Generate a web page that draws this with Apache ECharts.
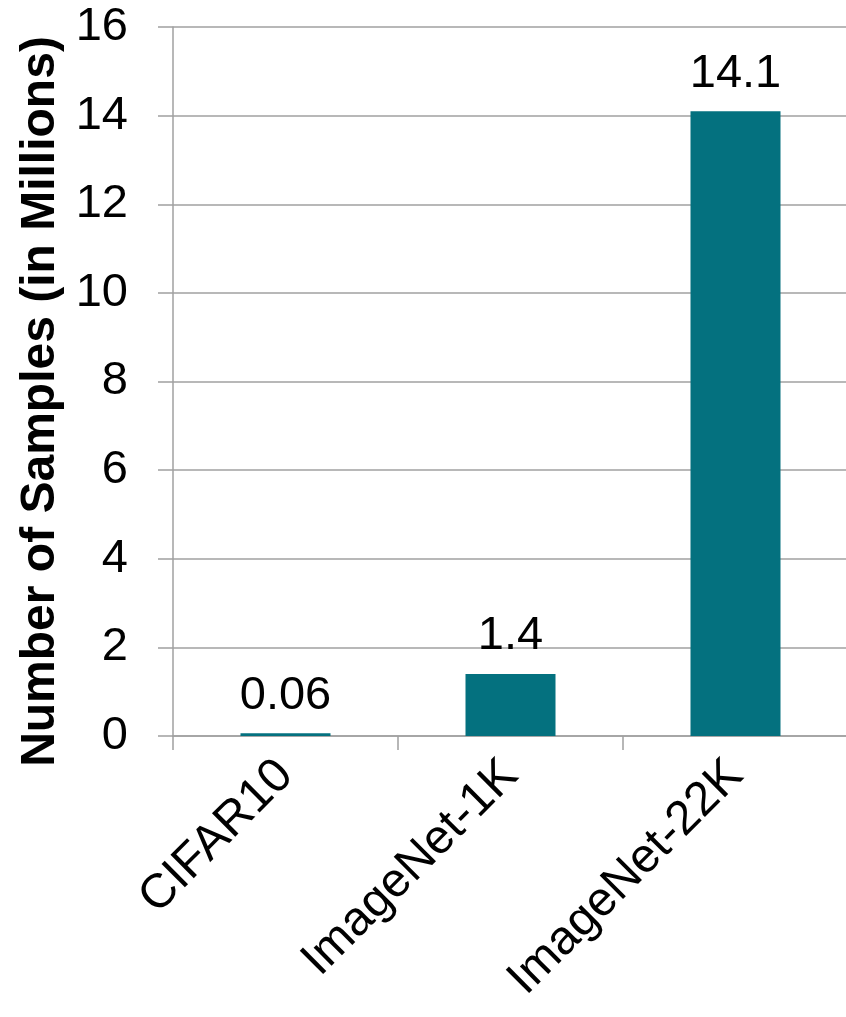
<!DOCTYPE html>
<html><head><meta charset="utf-8">
<script src="https://cdn.jsdelivr.net/npm/echarts@6/dist/echarts.min.js"></script>
<style>html,body{margin:0;padding:0;background:#fff}#c{width:846px;height:1017px}</style>
</head><body><div id="c"></div>
<script>
const categories = ['CIFAR10', 'ImageNet-1K', 'ImageNet-22K'];
const samples = [0.06, 1.4, 14.1];
const sampleLabels = ['0.06', '1.4', '14.1'];
const yTicks = [0, 2, 4, 6, 8, 10, 12, 14, 16];

const chart = echarts.init(document.getElementById('c'), null, {renderer: 'canvas'});
const font = '"Liberation Sans", Arial, sans-serif';
chart.setOption({
  animation: false,
  grid: {left: 173, right: -2, top: 27, bottom: 281, containLabel: false, outerBoundsMode: 'none'},
  xAxis: {
    type: 'category', data: categories,
    axisLine: {show: true, lineStyle: {color: '#A0A0A0', width: 1.5}},
    axisTick: {show: true, length: 14, lineStyle: {color: '#A0A0A0', width: 1.5}},
    axisLabel: {rotate: 45, margin: 32, fontSize: 48, color: '#000', fontFamily: font}
  },
  yAxis: {
    type: 'value', min: yTicks[0], max: yTicks[yTicks.length - 1], interval: 2,
    name: 'Number of Samples (in Millions)', nameLocation: 'middle', nameRotate: 90, nameGap: 105,
    nameTextStyle: {fontSize: 48, fontWeight: 'bold', color: '#000', fontFamily: font, padding: [0, 40, 0, 0]},
    axisLine: {show: true, lineStyle: {color: '#A0A0A0', width: 1.5}},
    axisTick: {show: true, length: 15, lineStyle: {color: '#A0A0A0', width: 1.5}},
    splitLine: {show: true, lineStyle: {color: '#A0A0A0', width: 1.5}},
    axisLabel: {margin: 45, fontSize: 47, color: '#000', fontFamily: font}
  },
  series: [{
    type: 'bar', data: samples, barWidth: '40%',
    itemStyle: {color: '#04717F'},
    label: {show: true, position: 'top', distance: 14, fontSize: 47, color: '#000', fontFamily: font,
      formatter: p => sampleLabels[p.dataIndex]}
  }]
});
</script></body></html>
